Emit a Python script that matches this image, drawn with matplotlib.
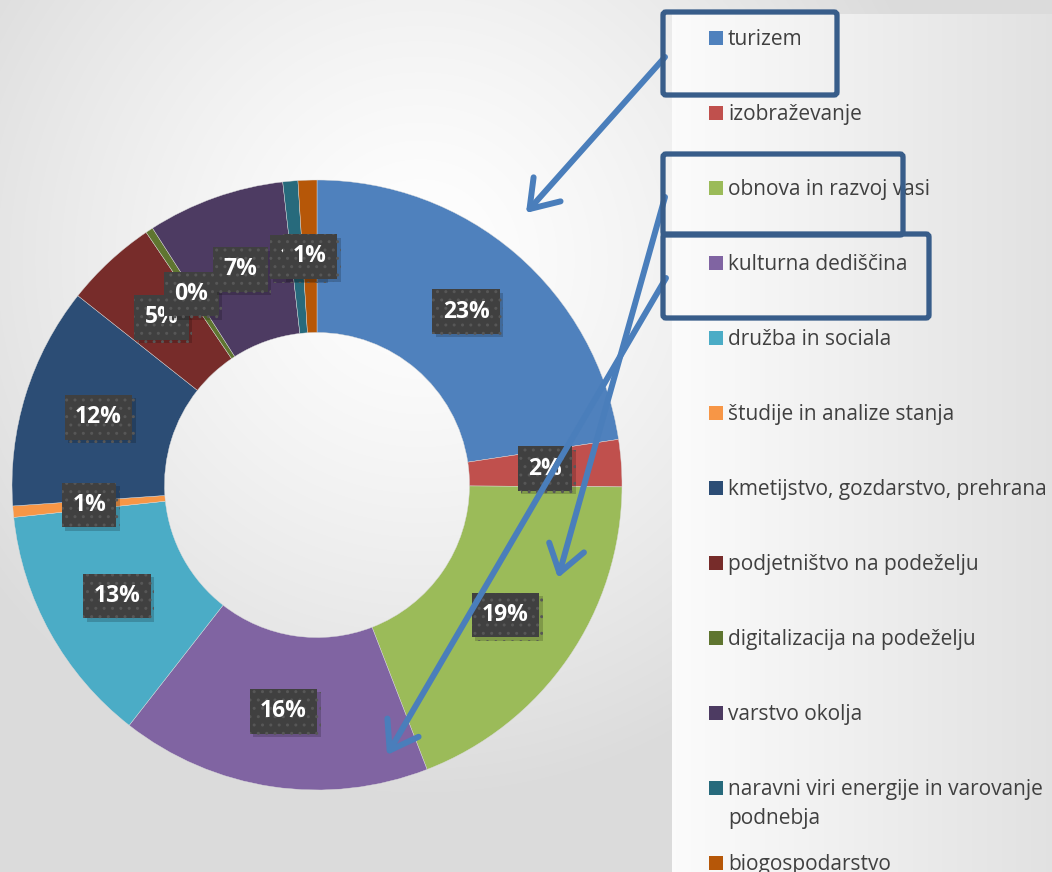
import numpy as np
import matplotlib
matplotlib.use("Agg")
import matplotlib.pyplot as plt
from matplotlib.patches import Rectangle, FancyBboxPatch
import matplotlib.patheffects as pe

categories = ["turizem", "izobraževanje", "obnova in razvoj vasi", "kulturna dediščina",
              "družba in sociala", "študije in analize stanja",
              "kmetijstvo, gozdarstvo, prehrana", "podjetništvo na podeželju",
              "digitalizacija na podeželju", "varstvo okolja",
              "naravni viri energije in varovanje\npodnebja", "biogospodarstvo"]
shares = [22.7, 2.5, 19.1, 16.5, 12.8, 0.6, 11.8, 4.9, 0.4, 7.3, 0.8, 1.0]
colors = ["#4F81BD", "#C0504D", "#9BBB59", "#8064A2", "#4BACC6", "#F79646",
          "#2C4D75", "#772C2A", "#5F7530", "#4D3B62", "#276A7C", "#B65708"]

plt.rcParams["hatch.linewidth"] = 1.0

W, H = 1052, 872
fig = plt.figure(figsize=(W / 100, H / 100), dpi=100)
ax = fig.add_axes([0, 0, 1, 1])
ax.set_axis_off()

def Y(y):
    return H - y

# background radial gradient
xx, yy = np.meshgrid(np.arange(W), np.arange(H))
d = np.sqrt((xx - 420) ** 2 + (yy - 260) ** 2)
bg = 1 - 0.14 * np.clip(d / 540, 0, 1) ** 1.3
img = np.dstack([bg, bg, bg])
ax.imshow(img, extent=(0, W, 0, H), origin="upper", zorder=0, aspect="auto")
# legend panel gradient
px = np.linspace(0.985, 0.885, 200)
panel = np.tile(px, (10, 1))
ax.imshow(np.dstack([panel] * 3), extent=(672, W, 0, Y(15)), origin="upper",
          zorder=0.5, aspect="auto")

# donut
cx, cy, R = 317, Y(485), 305
wedges, texts, autotexts = ax.pie(
    shares, colors=colors, startangle=90, counterclock=False, center=(cx, cy),
    radius=R, autopct="%1.0f%%", pctdistance=0.75,
    wedgeprops=dict(width=R * 0.5, edgecolor="#dcdcdc", linewidth=0.3),
    textprops=dict(color="white", fontsize=16.5, fontweight="bold", family="Open Sans"))
for t in autotexts:
    t.set_bbox(dict(boxstyle="square,pad=0.45", facecolor="#404040",
                    edgecolor="#575757", linewidth=0, hatch=".."))
    t.get_bbox_patch().set_path_effects(
        [pe.SimplePatchShadow(offset=(2.5, -2.5), shadow_rgbFace="black", alpha=0.18), pe.Normal()])
    t.set_zorder(5)

# legend (manual)
for i, (name, col) in enumerate(zip(categories, colors)):
    y = 38 + 75 * i
    ax.add_patch(Rectangle((709, Y(y) - 7), 14, 14, facecolor=col, edgecolor="none", zorder=3))
    for k, line in enumerate(name.split("\n")):
        ax.text(728, Y(y) - 7 - 29 * k, line, fontsize=15, family="Open Sans",
                color="#404040", va="baseline", ha="left", zorder=3)

# highlight boxes
for (x0, y0, x1, y1) in [(663, 12, 837, 95), (663, 154, 903, 235), (663, 234, 929, 318)]:
    ax.add_patch(FancyBboxPatch((x0, Y(y1)), x1 - x0, y1 - y0,
                                boxstyle="round,pad=0,rounding_size=3",
                                facecolor="none", edgecolor="#385D8A", linewidth=3.8, zorder=7))

# arrows
for (x0, y0, x1, y1) in [(665, 57, 526, 213), (665, 197, 558, 578), (666, 278, 387, 755)]:
    ax.annotate("", xy=(x1, Y(y1)), xytext=(x0, Y(y0)),
                arrowprops=dict(arrowstyle="->,head_length=0.95,head_width=0.65",
                                mutation_scale=20, lw=4.3, color="#4A7EBB",
                                shrinkA=0, shrinkB=0, capstyle="round", joinstyle="round"),
                zorder=6)

ax.set_xlim(0, W)
ax.set_ylim(0, H)
ax.set_aspect("auto")
fig.savefig("out.png", dpi=100)
